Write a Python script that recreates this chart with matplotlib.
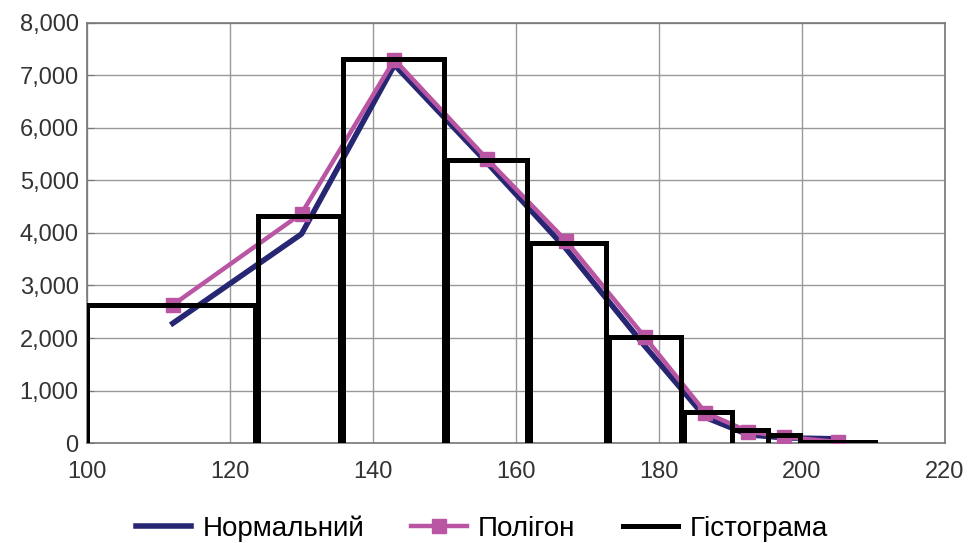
import numpy as np
import matplotlib.pyplot as plt
from matplotlib.ticker import FuncFormatter

# дані
mid_x = [112, 130, 143, 156, 167, 178, 186.5, 192.5, 197.5, 205]
normal_y = [2280, 3980, 7200, 5330, 3700, 1850, 490, 160, 100, 80]
polygon_y = [2630, 4370, 7300, 5400, 3850, 2020, 580, 220, 120, 20]

bin_left = [100, 123.9, 135.8, 150.4, 162.0, 173.0, 183.5, 190.2, 195.2, 199.7]
bin_right = [123.5, 135.4, 150, 161.6, 172.6, 183.1, 190.2, 195.2, 199.7, 210.2]
hist_y = [2620, 4330, 7310, 5390, 3810, 2020, 590, 250, 150, 30]

labels = ['Нормальний', 'Полігон', 'Гістограма']

# контур гістограми як ламана
hx, hy = [], []
for l, r, h in zip(bin_left, bin_right, hist_y):
    hx += [l, l, r, r]
    hy += [0, h, h, 0]

plt.rcParams['font.family'] = ['Liberation Sans', 'DejaVu Sans']

fig = plt.figure(figsize=(9.7, 5.43), dpi=100)
ax = fig.add_axes([0.0897, 0.184, 0.8845, 0.774])

ax.plot(mid_x, normal_y, color='#262673', lw=4, label=labels[0], zorder=3)
ax.plot(mid_x, polygon_y, color='#BA55A3', lw=3.2, marker='s', ms=10,
        label=labels[1], zorder=4)
ax.plot(hx, hy, color='black', lw=3.6, label=labels[2], zorder=5,
        solid_joinstyle='miter')

ax.set_xlim(100, 220)
ax.set_ylim(0, 8000)
ax.set_xticks(np.arange(100, 221, 20))
ax.set_yticks(np.arange(0, 8001, 1000))
ax.yaxis.set_major_formatter(FuncFormatter(lambda v, p: f'{int(v):,}'))
ax.tick_params(labelsize=17, colors='#333333', length=0, pad=13)
ax.tick_params(axis='y', length=5, direction='in', color='#777777', pad=6)
ax.grid(True, color='#999999', lw=1)
ax.set_axisbelow(True)
for s in ax.spines.values():
    s.set_color('#777777')
    s.set_linewidth(1.2)

leg = ax.legend(loc='upper center', bbox_to_anchor=(0.46, -0.125), ncol=3,
                frameon=False, handlelength=2.0, columnspacing=1.7,
                handletextpad=0.4, borderpad=0.2,
                prop={'size': 20})

fig.savefig('out.png', dpi=100)
